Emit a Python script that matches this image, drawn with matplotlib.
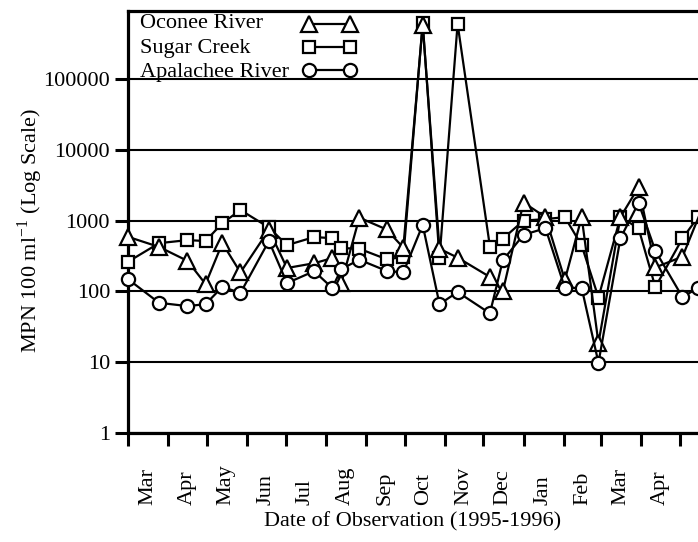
import matplotlib
matplotlib.use('Agg')
import matplotlib.pyplot as plt
import matplotlib.dates as mdates
import matplotlib.transforms as mtransforms
from matplotlib.ticker import FixedLocator, NullLocator, NullFormatter
import pandas as pd

plt.rcParams['font.family'] = ['Liberation Serif', 'DejaVu Serif']
plt.rcParams['mathtext.fontset'] = 'stix'
plt.rcParams['font.size'] = 16

# sampling dates shared by the three streams
dates = ['1995-03-01', '1995-03-25', '1995-04-16', '1995-04-30', '1995-05-13',
         '1995-05-27', '1995-06-18', '1995-07-02', '1995-07-23', '1995-08-06',
         '1995-08-13', '1995-08-27', '1995-09-17', '1995-09-30', '1995-10-15',
         '1995-10-28', '1995-11-11', '1995-12-06', '1995-12-16', '1996-01-01',
         '1996-01-18', '1996-02-02', '1996-02-15', '1996-02-28', '1996-03-16',
         '1996-03-30', '1996-04-12', '1996-05-03']
# next sample, cut off by the right edge of the figure
oconee_next = ('1996-05-25', 3000)
sugar_next = ('1996-05-15', 1120)
apalachee_next = ('1996-05-15', 112)

oconee = [590, 425, 270, 127, 480, 185, 740, 214, 250, 295,
          130, 1100, 750, 415, 580000, 400, 300, 160, 100, 1800,
          1120, 145, 1120, 18.6, 1120, 2970, 218, 310]
sugar = [262, 480, 530, 515, 920, 1410, 800, 450, 585, 565,
         410, 400, 285, 305, 620000, 295, 600000, 430, 555, 1000,
         1050, 1120, 445, 82, 1120, 780, 115, 560]
apalachee = [149, 69, 62, 66, 116, 95, 515, 131, 193, 112,
             207, 280, 195, 185, 870, 66, 98, 49, 275, 630,
             780, 112, 112, 9.8, 565, 1780, 375, 83]

month_labels = ['Mar', 'Apr', 'May', 'Jun', 'Jul', 'Aug', 'Sep', 'Oct',
                'Nov', 'Dec', 'Jan', 'Feb', 'Mar', 'Apr']
y_ticks = [1, 10, 100, 1000, 10000, 100000]

fig = plt.figure(figsize=(6.98, 5.42), dpi=100)
ax = fig.add_axes([128 / 698, 109 / 542, 570 / 698, 422.3 / 542])

series = [
    ('Sugar Creek', sugar, sugar_next, 's', 9),
    ('Oconee River', oconee, oconee_next, '^', 12),
    ('Apalachee River', apalachee, apalachee_next, 'o', 9.5),
]
style = dict(color='black', lw=1.6, mfc='white', mec='black', mew=1.6)
for name, vals, nxt, mk, ms in series:
    xs = pd.to_datetime(dates + [nxt[0]])
    ax.plot(xs, vals + [nxt[1]], marker=mk, ms=ms, clip_on=False,
            zorder=3, **style)

ax.set_yscale('log')
ax.set_ylim(1, 10 ** (422.3 / 70.8))
ax.yaxis.set_major_locator(FixedLocator(y_ticks))
ax.yaxis.set_minor_locator(NullLocator())
ax.set_yticklabels([str(v) for v in y_ticks])

ax.set_xlim(pd.Timestamp('1995-03-01'), pd.Timestamp('1996-05-15'))
ax.xaxis.set_major_locator(mdates.MonthLocator())
ax.xaxis.set_major_formatter(NullFormatter())
ax.xaxis.set_minor_locator(NullLocator())

ax.tick_params(axis='both', direction='out', length=9.4, width=2.2, color='black')
ax.tick_params(axis='y', pad=3.5, labelsize=16)

ax.grid(axis='y', color='black', lw=1.5)
ax.set_axisbelow(True)
ax.spines['right'].set_visible(False)
for s in ['left', 'bottom', 'top']:
    ax.spines[s].set_linewidth(2.3)

# month names centred between the month ticks
starts = pd.date_range('1995-03-01', periods=len(month_labels), freq='MS')
trans = mtransforms.blended_transform_factory(ax.transData, ax.transAxes)
for st, lab in zip(starts, month_labels):
    ax.text(st + pd.Timedelta(days=15), -0.1705, lab, rotation=90,
            ha='center', va='bottom', transform=trans, fontsize=16)

ax.set_xlabel('Date of Observation (1995-1996)', fontsize=16)
ax.xaxis.set_label_coords(0.5, -0.187)
ax.set_ylabel('MPN 100 ml$^{\\mathregular{-1}}$ (Log Scale)', fontsize=16)
ax.yaxis.set_label_coords(-0.145, 0.48)

# legend: names on the left, marker-line-marker samples on the right
legend_rows = [('Oconee River', '^', 12), ('Sugar Creek', 's', 9),
               ('Apalachee River', 'o', 9.5)]
for i, (name, mk, ms) in enumerate(legend_rows):
    base_y = 1 - (28 + 24.5 * i - 10.7) / 422.3
    mark_y = 1 - (23.5 + 23 * i - 10.7) / 422.3
    ax.text(12 / 570, base_y, name, transform=ax.transAxes,
            ha='left', va='baseline', fontsize=16)
    ax.plot([181 / 570, 222 / 570], [mark_y, mark_y], marker=mk, ms=ms,
            transform=ax.transAxes, clip_on=False, zorder=3, **style)

fig.savefig('out.png', dpi=100)
